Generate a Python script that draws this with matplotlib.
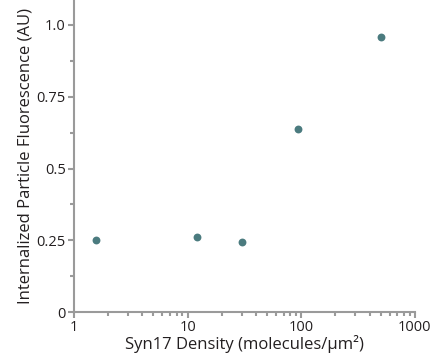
import matplotlib
matplotlib.use("Agg")
import matplotlib.pyplot as plt
from matplotlib.ticker import FixedLocator, LogLocator, NullFormatter

density = [1.55, 12.0, 29.8, 93.5, 503]
fluor = [0.251, 0.263, 0.245, 0.636, 0.959]
yticks = [0, 0.25, 0.5, 0.75, 1.0]
ytick_labels = ["0", "0.25", "0.5", "0.75", "1.0"]
xticks = [1, 10, 100, 1000]
xtick_labels = ["1", "10", "100", "1000"]

plt.rcParams['font.family'] = ['Open Sans', 'DejaVu Sans']
axis_color = "#9a9a9a"
text_color = "#231f20"

fig = plt.figure(figsize=(4.34, 3.62), dpi=100)
ax = fig.add_axes([0.1705, 0.138, 0.7855, 0.862])
ax.scatter(density, fluor, s=32, color="#4b7b7f", zorder=3, linewidths=0)
ax.set_xscale("log")
ax.set_xlim(1, 1000)
ax.set_ylim(0, 1.087)
ax.set_yticks(yticks)
ax.set_yticklabels(ytick_labels)
ax.yaxis.set_minor_locator(FixedLocator([0.125, 0.375, 0.625, 0.875]))
ax.set_xticks(xticks)
ax.set_xticklabels(xtick_labels)
ax.xaxis.set_minor_locator(LogLocator(base=10, subs=range(2, 10)))
ax.xaxis.set_minor_formatter(NullFormatter())
for s in ["top", "right"]:
    ax.spines[s].set_visible(False)
for s in ["left", "bottom"]:
    ax.spines[s].set_color(axis_color)
    ax.spines[s].set_linewidth(1.5)
ax.tick_params(which="both", color=axis_color, width=1.5, labelsize=10.5, labelcolor=text_color, direction="out")
ax.tick_params(which="major", length=4, pad=2)
ax.tick_params(which="minor", length=3)
ax.set_xlabel("Syn17 Density (molecules/µm²)", fontsize=12, color=text_color, labelpad=0)
ax.set_ylabel("Internalized Particle Fluorescence (AU)", fontsize=12, color=text_color, labelpad=2)
fig.savefig("out.png", dpi=100)
